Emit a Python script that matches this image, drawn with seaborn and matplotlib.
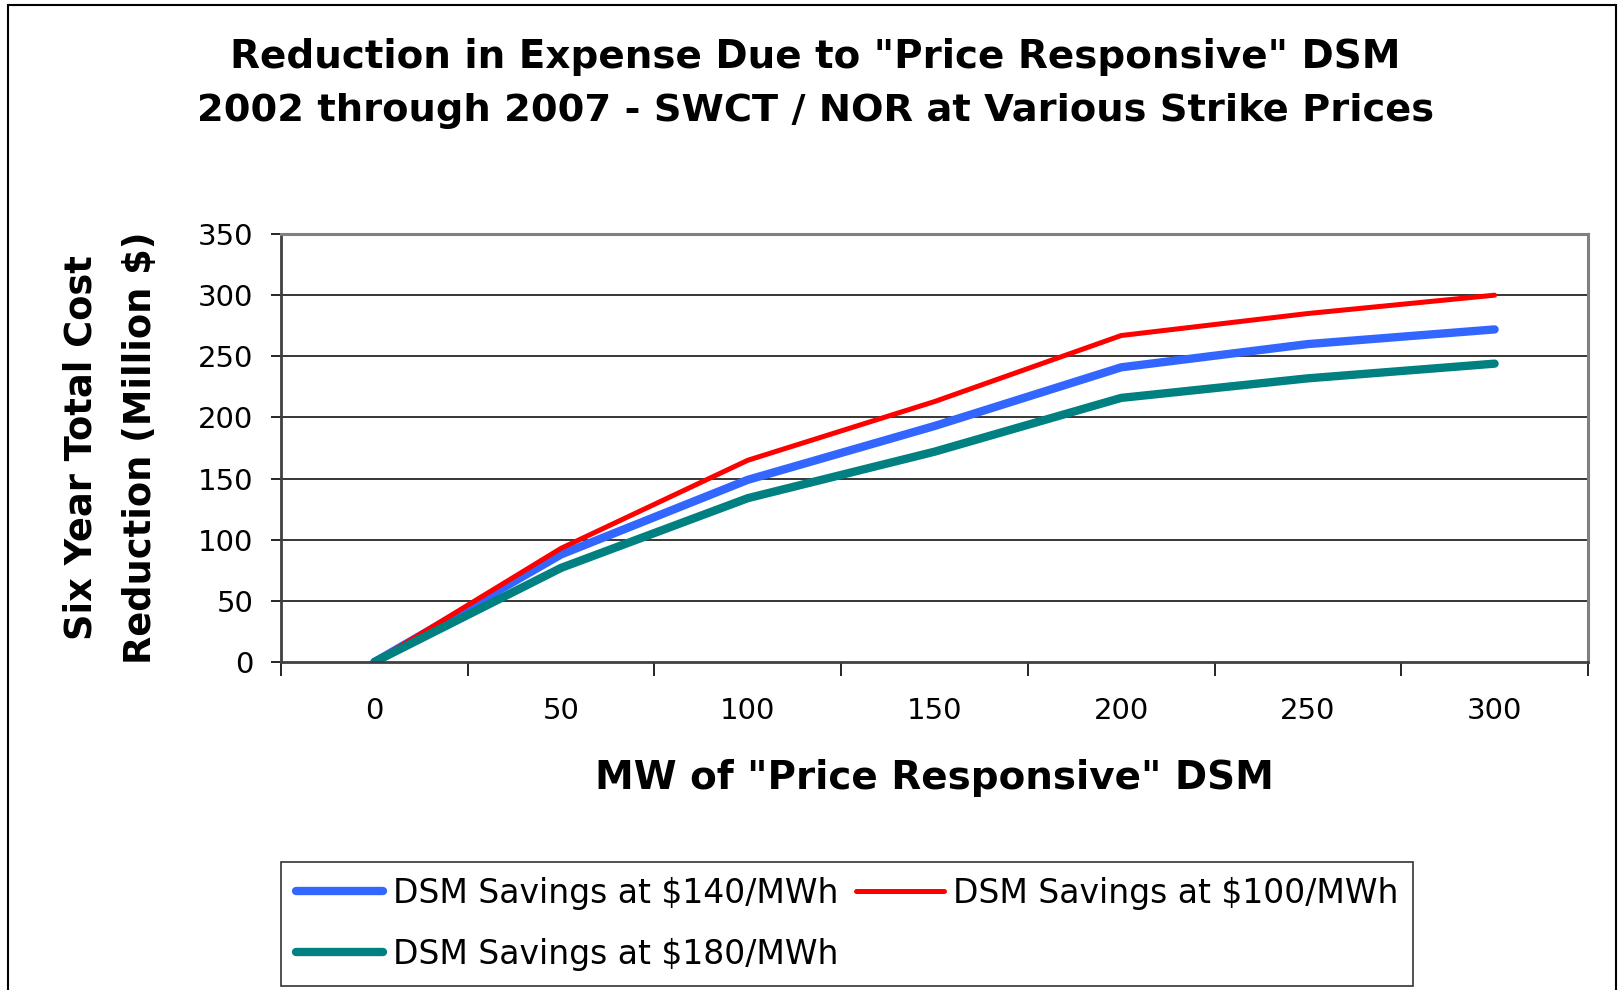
import matplotlib
matplotlib.use("Agg")
import matplotlib.pyplot as plt
import seaborn as sns
import pandas as pd
from matplotlib.patches import Rectangle
from matplotlib.ticker import FixedLocator, NullFormatter

mw = [0, 50, 100, 150, 200, 250, 300]
s140 = [0, 88, 149, 193, 241, 260, 272]
s100 = [0, 93, 165, 213, 267, 285, 300]
s180 = [0, 77, 134, 172, 216, 232, 244]
series_names = ["DSM Savings at $140/MWh", "DSM Savings at $100/MWh", "DSM Savings at $180/MWh"]
colors = ["#3366FF", "#FF0000", "#008080"]
widths = [6.0, 3.6, 6.0]

sns.set_theme(style="white")
plt.rcParams['font.family'] = ['DejaVu Sans']
plt.rcParams.update({"text.color": "black", "axes.labelcolor": "black",
                     "xtick.color": "black", "ytick.color": "black"})

df = pd.concat([
    pd.DataFrame({"MW": mw, "val": vals, "series": name})
    for name, vals in zip(series_names, [s140, s100, s180])
])

fig = plt.figure(figsize=(16.22, 9.90), dpi=100)
ax = fig.add_axes([0.1733, 0.3313, 0.979 - 0.1733, 0.7636 - 0.3313])

for name, c, w in zip(series_names, colors, widths):
    sub = df[df["series"] == name]
    sns.lineplot(data=sub, x="MW", y="val", ax=ax, color=c, linewidth=w,
                 label=name, solid_capstyle="round", solid_joinstyle="round")
ax.get_legend().remove()

ax.set_xlim(-25, 325)
ax.set_ylim(0, 350)
ax.yaxis.set_major_locator(FixedLocator([0, 50, 100, 150, 200, 250, 300, 350]))
ax.set_yticklabels(["0", "50", "100", "150", "200", "250", "300", "350"])
ax.xaxis.set_major_locator(FixedLocator([-25, 25, 75, 125, 175, 225, 275, 325]))
ax.xaxis.set_major_formatter(NullFormatter())
ax.xaxis.set_minor_locator(FixedLocator(mw))
ax.set_xticklabels([str(v) for v in mw], minor=True)

ax.tick_params(axis="y", which="major", direction="out", length=7, width=1.2,
               color="black", labelcolor="black", labelsize=21, pad=13, left=True)
ax.tick_params(axis="x", which="major", direction="out", length=10, width=1.2,
               color="black", bottom=True)
ax.tick_params(axis="x", which="minor", length=0, labelsize=21, pad=25,
               labelcolor="black")

ax.grid(False)
for yv in [50, 100, 150, 200, 250, 300]:
    ax.axhline(yv, color="black", linewidth=1.1, zorder=0.5)

for side in ["top", "right"]:
    ax.spines[side].set_visible(True)
    ax.spines[side].set_color("#808080")
    ax.spines[side].set_linewidth(2.2)
for side in ["left", "bottom"]:
    ax.spines[side].set_visible(True)
    ax.spines[side].set_color("#404040")
    ax.spines[side].set_linewidth(2.0)

ax.set_xlabel("")
ax.set_ylabel("")
fig.text(934 / 1622, 1 - 778 / 990, 'MW of "Price Responsive" DSM',
         ha="center", va="center", fontsize=28, fontweight="bold", color="black")
fig.text(81 / 1622, 1 - 448 / 990, "Six Year Total Cost", rotation=90,
         ha="center", va="center", fontsize=26.5, fontweight="bold", color="black")
fig.text(140 / 1622, 1 - 448 / 990, "Reduction (Million $)", rotation=90,
         ha="center", va="center", fontsize=26.5, fontweight="bold", color="black")

fig.text(0.5029, 0.9424, 'Reduction in Expense Due to "Price Responsive" DSM',
         ha="center", va="center", fontsize=28, fontweight="bold", color="black")
fig.text(0.5029, 0.888, '2002 through 2007 - SWCT / NOR at Various Strike Prices',
         ha="center", va="center", fontsize=27.6, fontweight="bold", color="black")

handles, labels = ax.get_legend_handles_labels()
order = [0, 2, 1]
leg = fig.legend([handles[i] for i in order], [labels[i] for i in order],
                 ncol=2, loc="upper left",
                 bbox_to_anchor=(281 / 1622, 1 - 862 / 990),
                 borderaxespad=0, fontsize=23.8, frameon=True, fancybox=False,
                 edgecolor="black", handlelength=2.65, handletextpad=0.28,
                 columnspacing=0.55, labelspacing=0.85, borderpad=0.45)
leg.get_frame().set_linewidth(1.2)
for t in leg.get_texts():
    t.set_color("black")

fig.patches.append(Rectangle((0.005, -0.05), 0.991, 1.045, transform=fig.transFigure,
                             fill=False, edgecolor="black", linewidth=1.5))

fig.savefig("out.png", dpi=100, facecolor="white")
